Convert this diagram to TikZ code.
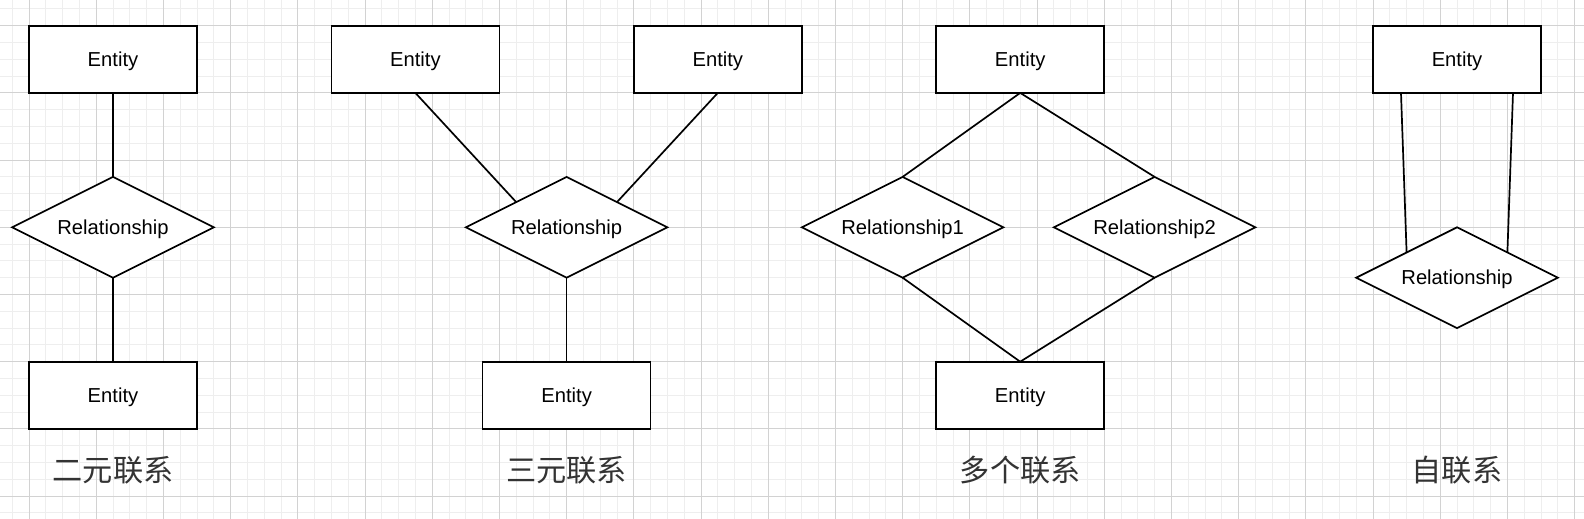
\documentclass[tikz,border=0pt]{standalone}
\usepackage{fontspec}
\setmainfont{Liberation Sans}
\newfontfamily\cjk{Noto Sans CJK SC}
\usetikzlibrary{shapes.geometric,calc}
\definecolor{gridminor}{HTML}{EEEEEE}
\definecolor{gridmajor}{HTML}{D2D2D2}
\definecolor{labelgray}{HTML}{333333}
\begin{document}
\begin{tikzpicture}[x=1.68pt,y=-1.68pt,
  entity/.style={draw=black, fill=white, line width=1.7pt, minimum width=168pt, minimum height=67.2pt,
    inner sep=0pt, outer sep=0pt, font=\fontsize{20.2}{24}\selectfont, text height=14.46pt, text depth=0pt},
  relation/.style={diamond, shape aspect=2, draw=black, fill=white, line width=1.7pt,
    minimum width=201.6pt, minimum height=100.8pt, inner sep=0pt, outer sep=0pt,
    font=\fontsize{20.2}{24}\selectfont, text height=14.46pt, text depth=0pt},
  link/.style={line width=1.7pt, draw=black},
  caption/.style={font=\cjk\fontsize{30.2}{36}\selectfont, text=labelgray, inner sep=0pt,
    text height=26.6pt, text depth=3.6pt}]
\useasboundingbox (-17.262,-15.298) rectangle (925.595,293.631);
\fill[white] (-17.262,-15.298) rectangle (925.595,293.631);
% grid
\foreach \u in {-10,0,...,920} \draw[gridminor, line width=1pt] (\u,-15.298) -- (\u,293.631);
\foreach \v in {-10,0,...,290} \draw[gridminor, line width=1pt] (-17.262,\v) -- (925.595,\v);
\foreach \u in {0,40,...,920} \draw[gridmajor, line width=1pt] (\u,-15.298) -- (\u,293.631);
\foreach \v in {0,40,...,280} \draw[gridmajor, line width=1pt] (-17.262,\v) -- (925.595,\v);

% binary
\node[entity] (b1) at (50,20) {Entity};
\node[relation] (br) at (50,120) {Relationship};
\node[entity] (b2) at (50,220) {Entity};
\node[caption] (bl) at (50,264.6) {二元联系};
\draw[link] (b1.south) -- (br.north);
\draw[link] (br.south) -- (b2.north);

% ternary
\node[entity] (t1) at (230,20) {Entity};
\node[entity] (t2) at (410,20) {Entity};
\node[relation] (tr) at (320,120) {Relationship};
\node[entity] (t3) at (320,220) {Entity};
\node[caption] (tl) at (320,264.6) {三元联系};
\draw[link] (t1.south) -- ($(tr.north)!0.5!(tr.west)$);
\draw[link] (t2.south) -- ($(tr.north)!0.5!(tr.east)$);
\draw[link] (tr.south) -- (t3.north);

% multiple
\node[entity] (m1) at (590,20) {Entity};
\node[relation] (r1) at (520,120) {Relationship1};
\node[relation] (r2) at (670,120) {Relationship2};
\node[entity] (m2) at (590,220) {Entity};
\node[caption] (ml) at (590,264.6) {多个联系};
\draw[link] (m1.south) -- (r1.north);
\draw[link] (m1.south) -- (r2.north);
\draw[link] (r1.south) -- (m2.north);
\draw[link] (r2.south) -- (m2.north);

% self
\node[entity] (s1) at (850,20) {Entity};
\node[relation] (sr) at (850,150) {Relationship};
\node[caption] (sl) at (850,264.6) {自联系};
\draw[link] ($(s1.south west)!1/6!(s1.south east)$) -- ($(sr.north)!0.5!(sr.west)$);
\draw[link] ($(s1.south west)!5/6!(s1.south east)$) -- ($(sr.north)!0.5!(sr.east)$);
\end{tikzpicture}
\end{document}
